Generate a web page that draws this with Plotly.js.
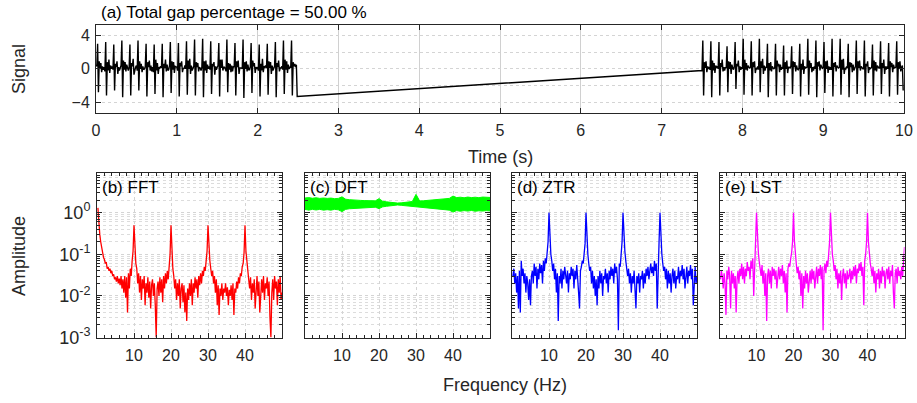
<!DOCTYPE html>
<html><head><meta charset="utf-8">
<script src="https://cdn.plot.ly/plotly-3.0.1.min.js"></script>
<style>html,body{margin:0;padding:0;background:#fff}#chart{width:917px;height:403px}</style>
</head><body><div id="chart"></div>
<script>
// ---------------- data ----------------
const sampleStep = 0.01;      // s
const segment1Start = 0;      // s
const segment2Start = 7.5;    // s
const timeTicks = [0,1,2,3,4,5,6,7,8,9,10];
const signalTickVals = [-4,0,4];
const signalMinorTickVals = [-2,2];

const signalSeg1 = [
 0.5,0.3,3.0,-2.8,0.9,0.1,0.7,-0.4,0.3,-0.1,
 0.2,-0.3,3.2,-3.2,0.8,-0.2,1.1,-0.5,0.4,0.0,
 0.3,-0.1,2.9,-2.6,0.6,0.2,0.9,-0.6,0.2,-0.2,
 0.1,0.4,3.4,-3.4,1.0,-0.1,0.8,-0.3,0.5,0.1,
 -0.2,0.2,2.9,-3.2,0.7,0.3,1.2,-0.7,0.1,0.2,
 0.4,-0.2,3.4,-2.6,0.9,0.0,0.6,-0.4,0.3,-0.1,
 0.0,0.3,3.0,-3.3,0.8,0.2,1.0,-0.2,0.4,-0.3,
 0.2,-0.4,2.9,-3.0,1.1,-0.2,0.7,-0.6,0.2,0.1,
 0.3,0.1,3.0,-3.4,0.6,0.1,1.1,-0.3,0.5,-0.2,
 -0.1,0.4,3.2,-2.9,0.9,-0.1,0.8,-0.5,0.3,0.2,
 0.2,-0.2,3.1,-3.3,0.7,0.3,0.9,-0.4,0.1,0.0,
 0.4,0.0,3.3,-3.1,1.0,0.0,1.2,-0.6,0.4,-0.2,
 0.1,0.3,3.5,-3.2,0.8,0.2,0.7,-0.3,0.2,0.1,
 -0.2,0.2,3.6,-3.4,0.9,-0.2,1.0,-0.5,0.5,0.0,
 0.3,-0.1,3.3,-3.0,0.6,0.3,0.8,-0.7,0.3,-0.1,
 0.2,0.4,3.1,-3.3,1.1,0.1,1.1,-0.2,0.2,0.2,
 0.0,-0.3,3.5,-2.8,0.7,-0.1,0.6,-0.4,0.4,-0.3,
 0.3,0.2,3.1,-3.2,0.9,0.2,1.0,-0.6,0.1,0.1,
 0.1,0.0,3.5,-3.5,0.8,0.0,0.9,-0.3,0.5,-0.1,
 -0.1,0.3,3.1,-2.9,1.0,0.3,0.7,-0.5,0.2,0.0,
 0.2,-0.2,2.9,-3.3,0.6,-0.2,1.2,-0.4,0.3,0.2,
 0.4,0.1,3.0,-3.1,0.9,0.1,0.8,-0.6,0.4,-0.2,
 0.0,0.3,3.2,-3.4,0.7,0.2,1.0,-0.3,0.1,0.1,
 0.3,-0.1,3.4,-3.0,1.1,-0.1,0.9,-0.5,0.5,0.0,
 0.2,0.2,3.4,-3.2,0.8,0.3,0.6,0.2,0.5,-3.3
];
const signalSeg2 = [
 -0.2,3.4,-3.2,0.8,0.1,0.9,-0.4,0.3,0.0,0.2,
 -0.1,3.3,-3.4,1.0,-0.2,0.7,-0.5,0.4,0.1,0.3,
 0.0,3.2,-3.2,0.7,0.2,1.1,-0.3,0.2,-0.2,0.2,
 0.1,2.7,-2.8,0.9,0.0,0.8,-0.6,0.5,0.1,-0.1,
 0.3,3.2,-2.4,0.6,0.3,1.0,-0.4,0.3,-0.1,0.2,
 0.0,3.6,-3.1,1.1,-0.1,0.7,-0.2,0.4,0.2,0.1,
 0.2,3.3,-3.2,0.8,0.2,0.9,-0.5,0.1,0.0,0.3,
 -0.1,3.6,-2.8,0.9,0.1,1.2,-0.6,0.4,-0.2,0.2,
 0.2,3.0,-3.4,0.7,-0.2,0.8,-0.3,0.3,0.1,0.0,
 0.1,3.0,-3.2,1.0,0.3,0.6,-0.4,0.5,-0.1,0.2,
 0.0,2.8,-3.2,0.8,0.0,1.0,-0.5,0.2,0.2,0.1,
 0.3,2.7,-3.0,0.9,0.2,0.8,-0.3,0.4,0.0,-0.1,
 0.1,3.0,-3.3,0.6,-0.1,1.1,-0.6,0.3,0.1,0.2,
 0.2,3.6,-3.1,1.0,0.1,0.7,-0.4,0.2,-0.2,0.3,
 0.0,3.4,-3.4,0.8,0.3,0.9,-0.2,0.5,0.1,0.0,
 0.2,3.2,-2.9,0.9,0.0,1.0,-0.5,0.3,-0.1,0.2,
 -0.1,3.6,-3.3,0.7,0.2,0.8,-0.3,0.4,0.2,0.1,
 0.2,3.6,-3.1,1.1,-0.1,1.2,-0.6,0.1,0.0,0.3,
 0.1,3.0,-3.4,0.8,0.2,0.7,-0.4,0.5,-0.2,0.1,
 0.3,3.4,-3.0,0.9,0.1,1.0,-0.2,0.3,0.1,0.0,
 0.0,3.4,-3.3,0.6,0.3,0.9,-0.5,0.2,0.0,0.2,
 0.2,2.9,-3.2,1.0,-0.2,0.8,-0.3,0.4,0.2,0.1,
 0.1,3.3,-3.0,0.7,0.1,1.1,-0.6,0.3,-0.1,0.3,
 0.0,3.1,-3.3,0.9,0.2,0.7,-0.4,0.5,0.1,0.2,
 0.2,3.3,-3.1,0.8,0.0,0.9,-0.3,0.2,0.4,-2.6
];

const freqStep = 0.25;        // Hz, first bin at 0.25 Hz
const freqTicks = [10,20,30,40];
const ampTickVals = [0.001,0.01,0.1,1];
const ampTickText = ['10<sup>-3</sup>','10<sup>-2</sup>','10<sup>-1</sup>','10<sup>0</sup>'];

const ampFFT = [
 1.3,.55,.3,.2,.14,.11,.085,.075,.06,.065,.045,.05,.04,.045,.035,.04,.03,.033,.025,.028,
 .022,.03,.02,.026,.018,.03,.015,.025,.012,.03,.009,.028,.004,.035,.015,.045,.03,.07,.12,.5,
 .12,.06,.045,.02,.035,.012,.03,.008,.025,.015,.03,.006,.02,.012,.028,.009,.022,.005,.018,.025,
 .01,.02,.006,.001,.015,.022,.01,.028,.012,.025,.007,.03,.015,.035,.02,.04,.025,.06,.1,.5,
 .1,.045,.03,.015,.025,.008,.02,.01,.025,.005,.015,.02,.007,.018,.004,.012,.0025,.015,.008,.02,
 .01,.025,.006,.02,.012,.028,.015,.025,.009,.03,.018,.035,.02,.04,.03,.05,.04,.07,.12,.5,
 .14,.07,.045,.03,.04,.02,.03,.012,.025,.006,.018,.0035,.015,.01,.02,.008,.015,.012,.02,.01,
 .016,.006,.014,.01,.018,.008,.02,.0035,.015,.012,.022,.015,.028,.02,.035,.03,.05,.06,.11,.5,
 .12,.06,.035,.025,.015,.028,.008,.02,.012,.025,.005,.018,.03,.01,.022,.004,.015,.025,.012,.03,
 .008,.02,.015,.028,.01,.022,.003,.001,.012,.025,.008,.03,.015,.022,.006,.025,.012,.03,.008,.012
];
const ampZTR = [
 .03,.045,.02,.035,.012,.03,.005,.04,.004,.07,.03,.045,.02,.035,.012,.03,.02,.008,.025,.006,
 .03,.04,.02,.06,.03,.05,.015,.045,.025,.06,.035,.055,.02,.07,.04,.08,.06,.1,.2,1,
 .22,.1,.07,.04,.06,.025,.045,.012,.035,.0025,.03,.02,.045,.015,.04,.025,.05,.03,.02,.04,
 .012,.035,.025,.05,.03,.045,.015,.04,.025,.055,.03,.012,.005,.04,.05,.07,.06,.1,.18,1,
 .2,.1,.06,.04,.05,.02,.04,.015,.03,.01,.025,.006,.03,.015,.04,.02,.035,.01,.03,.025,
 .045,.02,.035,.012,.04,.025,.05,.03,.045,.02,.06,.035,.05,.025,.0015,.06,.05,.1,.2,1,
 .22,.12,.07,.05,.03,.045,.02,.035,.012,.03,.02,.04,.015,.005,.03,.02,.035,.012,.03,.025,
 .04,.015,.035,.02,.045,.03,.05,.025,.04,.06,.035,.05,.03,.07,.04,.06,.005,.1,.2,1,
 .2,.1,.06,.04,.05,.025,.045,.015,.04,.02,.035,.012,.03,.045,.02,.04,.015,.03,.025,.05,
 .02,.04,.03,.055,.025,.045,.015,.035,.05,.02,.04,.03,.055,.025,.045,.006,.035,.05,.02,.03
];
const ampLST = [
 .025,.04,.03,.015,.035,.02,.0035,.04,.025,.05,.03,.005,.04,.02,.035,.015,.03,.004,.025,.04,
 .02,.045,.03,.06,.025,.05,.02,.045,.03,.065,.04,.05,.025,.07,.045,.08,.01,.1,.2,1,
 .2,.11,.065,.045,.03,.055,.02,.04,.01,.035,.0025,.03,.045,.02,.04,.015,.05,.03,.045,.025,
 .04,.015,.035,.05,.025,.045,.03,.055,.02,.04,.012,.035,.004,.045,.06,.05,.08,.11,.2,1,
 .21,.09,.06,.035,.05,.025,.04,.01,.035,.005,.03,.015,.04,.02,.035,.012,.03,.04,.02,.045,
 .025,.04,.015,.035,.05,.02,.045,.03,.055,.025,.05,.0015,.04,.06,.035,.07,.05,.1,.2,1,
 .22,.1,.07,.04,.055,.025,.045,.015,.035,.02,.04,.008,.03,.045,.02,.035,.015,.04,.025,.03,
 .045,.02,.04,.025,.05,.03,.055,.02,.045,.035,.06,.04,.065,.03,.05,.006,.07,.1,.2,1,
 .2,.1,.06,.045,.03,.05,.02,.04,.012,.035,.025,.045,.015,.04,.02,.05,.03,.04,.015,.035,
 .045,.025,.05,.02,.04,.03,.055,.012,.005,.035,.045,.02,.05,.03,.04,.025,.05,.03,.06,.15
];
// DFT: the line oscillates densely between these envelopes (1 Hz steps from 0 Hz)
const dftFreqStep = 1;
const dftUpper = [2.25,2.3,2.22,2.28,2.2,2.25,2.2,2.24,2.17,2.2,2.4,2.1,2.05,2.0,2.02,1.97,1.95,1.93,1.9,1.92,
 2.17,1.88,1.82,1.78,1.72,1.7,1.72,1.76,1.8,1.85,2.75,1.9,1.93,1.97,2.0,2.05,2.08,2.12,2.15,2.2,
 2.5,2.3,2.35,2.28,2.37,2.3,2.35,2.29,2.37,2.3,2.32];
const dftLower = [1.2,1.15,1.2,1.16,1.2,1.15,1.18,1.15,1.2,1.17,1.06,1.2,1.24,1.26,1.28,1.3,1.32,1.34,1.36,1.35,
 1.25,1.38,1.42,1.46,1.5,1.53,1.5,1.47,1.43,1.4,1.36,1.34,1.3,1.28,1.25,1.22,1.2,1.18,1.16,1.15,
 1.03,1.12,1.08,1.12,1.09,1.13,1.08,1.11,1.09,1.12,1.1];

// ---------------- build ----------------
const W = 917, H = 403;
const fx = p => p / W, fy = p => 1 - p / H;
const FONT = 'Liberation Sans, Arial, Helvetica, sans-serif';
const INK = '#262626';

const t1 = signalSeg1.map((_, i) => segment1Start + i * sampleStep);
const t2 = signalSeg2.map((_, i) => segment2Start + i * sampleStep);
const freqs = ampFFT.map((_, i) => (i + 1) * freqStep);
const dftFreqs = dftUpper.map((_, i) => i * dftFreqStep);

const traces = [
  {x: t1.concat(t2), y: signalSeg1.concat(signalSeg2), xaxis:'x', yaxis:'y', mode:'lines', line:{color:'#000000', width:1.4}},
  {x: freqs, y: ampFFT, xaxis:'x2', yaxis:'y2', mode:'lines', line:{color:'#ff0000', width:1.3}},
  {x: dftFreqs, y: dftLower, xaxis:'x3', yaxis:'y3', mode:'lines', line:{color:'#00ff00', width:1}},
  {x: dftFreqs, y: dftUpper, xaxis:'x3', yaxis:'y3', mode:'lines', fill:'tonexty', fillcolor:'#00ff00', line:{color:'#00ff00', width:1}},
  {x: freqs, y: ampZTR, xaxis:'x4', yaxis:'y4', mode:'lines', line:{color:'#0000ff', width:1.3}},
  {x: freqs, y: ampLST, xaxis:'x5', yaxis:'y5', mode:'lines', line:{color:'#ff00ff', width:1.3}}
];

const tickFont = {family: FONT, size: 16, color: INK};
const axBase = {
  showline:true, linecolor:INK, linewidth:1, mirror:'ticks',
  ticks:'inside', ticklen:5, tickcolor:INK, tickwidth:1,
  tickfont:tickFont, zeroline:false, showgrid:true,
  gridcolor:'#d4d4d4', griddash:'dot', gridwidth:1, fixedrange:true
};

const layout = {
  width: W, height: H, margin:{l:0,r:0,t:0,b:0},
  paper_bgcolor:'#ffffff', plot_bgcolor:'#ffffff', showlegend:false,
  font:{family:FONT, color:INK},
  xaxis: Object.assign({}, axBase, {domain:[fx(96), fx(904)], range:[0,10], tickvals:timeTicks, anchor:'y', gridcolor:'#d0d0d0', griddash:'solid', ticklabelstandoff:3}),
  yaxis: Object.assign({}, axBase, {domain:[fy(112.7), fy(25)], range:[-5.25,5.25], tickvals:signalTickVals, anchor:'x', ticklabelstandoff:2,
    minor:{tickvals:signalMinorTickVals, ticks:'inside', ticklen:5, tickcolor:INK, showgrid:true, gridcolor:'#d4d4d4', griddash:'dot', gridwidth:1}}),
  annotations: []
};

const panelX = [[97,282],[305,490],[512,697],[719.5,904.5]];
const panelNames = ['(b) FFT','(c) DFT','(d) ZTR','(e) LST'];
panelX.forEach((px, k) => {
  const n = k + 2;
  layout['xaxis' + n] = Object.assign({}, axBase, {
    domain:[fx(px[0]), fx(px[1])], range:[0,50], tickvals:freqTicks, anchor:'y' + n, ticklabelstandoff:3,
    minor:{dtick:2, ticks:'inside', ticklen:3, tickcolor:INK, showgrid:false}
  });
  const yax = Object.assign({}, axBase, {
    type:'log', domain:[fy(337.5), fy(172.7)], range:[-3, 0.96], anchor:'x' + n,
    tickvals:ampTickVals, showticklabels: k === 0,
    minor:{dtick:'D1', ticks:'inside', ticklen:3, tickcolor:INK, showgrid:true, gridcolor:'#dcdcdc', griddash:'dot', gridwidth:1}
  });
  if (k === 0) { yax.ticktext = ampTickText; yax.tickfont = {family:FONT, size:18, color:INK}; yax.ticklabelstandoff = 2; }
  layout['yaxis' + n] = yax;
  layout.annotations.push({text: panelNames[k], xref:'paper', yref:'paper', x: fx(px[0] + 3), y: fy(188),
    xanchor:'left', yanchor:'middle', showarrow:false, font:{family:FONT, size:17, color:'#000000'}});
});

layout.annotations.push(
  {text:'(a) Total gap percentage = 50.00 %', xref:'paper', yref:'paper', x:fx(99), y:fy(13), xanchor:'left', yanchor:'middle', showarrow:false, font:{family:FONT, size:17, color:'#000000'}},
  {text:'Signal', xref:'paper', yref:'paper', x:fx(19), y:fy(69), textangle:-90, xanchor:'center', yanchor:'middle', showarrow:false, font:{family:FONT, size:18, color:INK}},
  {text:'Time (s)', xref:'paper', yref:'paper', x:fx(500), y:fy(157), xanchor:'center', yanchor:'middle', showarrow:false, font:{family:FONT, size:18, color:INK}},
  {text:'Amplitude', xref:'paper', yref:'paper', x:fx(19), y:fy(256), textangle:-90, xanchor:'center', yanchor:'middle', showarrow:false, font:{family:FONT, size:18, color:INK}},
  {text:'Frequency (Hz)', xref:'paper', yref:'paper', x:fx(505), y:fy(385), xanchor:'center', yanchor:'middle', showarrow:false, font:{family:FONT, size:18, color:INK}}
);

Plotly.newPlot('chart', traces, layout, {staticPlot:true, displayModeBar:false});
</script>
</body></html>
